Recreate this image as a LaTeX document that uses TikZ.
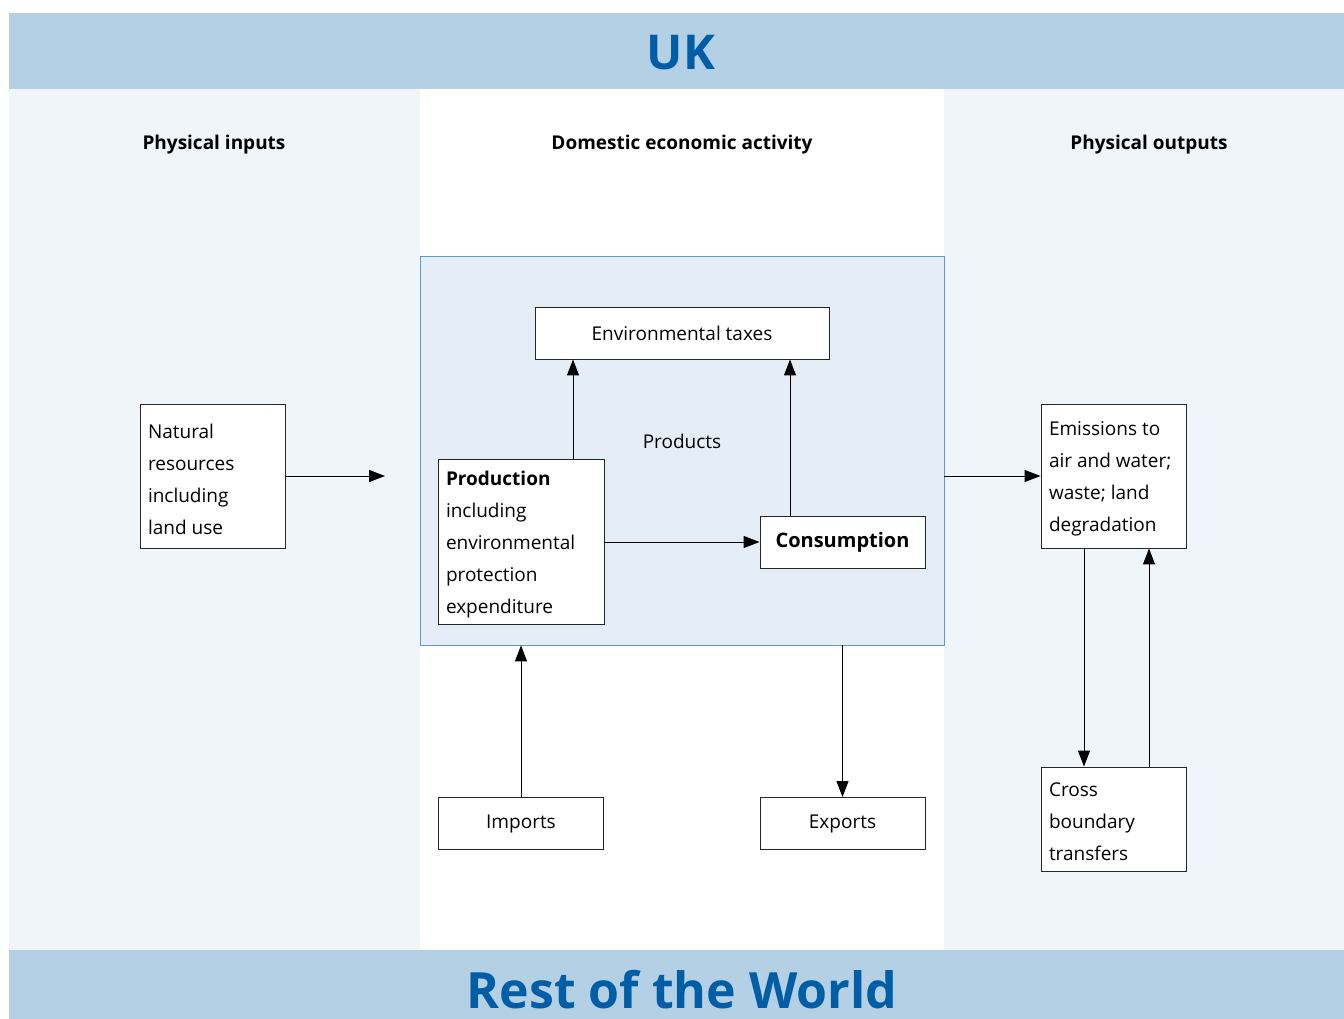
\documentclass[tikz,border=0pt]{standalone}
\usepackage{fontspec}
\setmainfont{Open Sans}
\usetikzlibrary{arrows.meta}
\definecolor{band}{HTML}{B4D0E4}
\definecolor{pale}{HTML}{F0F5FA}
\definecolor{inner}{HTML}{E5EEF7}
\definecolor{innerline}{HTML}{5B9BD5}
\definecolor{hdrblue}{HTML}{005DA6}
\newcommand{\lowtext}[2]{\raisebox{-3pt}[\height][\depth]{\parbox{#1}{\raggedright #2}}}
\begin{document}
\begin{tikzpicture}[x=1pt,y=-1pt,
  box/.style={draw=black!85,fill=white,line width=0.9pt,inner sep=8pt,font=\fontsize{19}{32}\selectfont},
  lbox/.style={box},
  cbox/.style={box,align=center},
  conn/.style={line width=1pt,-{Triangle[length=16pt,width=12pt]}},
  colhead/.style={font=\bfseries\fontsize{19}{22}\selectfont},
  bandtext/.style={font=\bfseries\fontsize{#1}{52}\selectfont,text=hdrblue}
]
\useasboundingbox (0,0) rectangle (1344,1019);
% backgrounds
\fill[white] (0,0) rectangle (1344,1019);
\fill[pale] (9,89) rectangle (1344,950);
\fill[white] (420,89) rectangle (944,950);
\fill[band] (9,13) rectangle (1344,89);
\fill[band] (9,950) rectangle (1344,1019);
\node[bandtext=48] (uk) at (681,53) {UK};
\node[bandtext=50] (row) at (682,990) {Rest of the World};
% column heads
\node[colhead] (hin) at (214,145) {Physical inputs};
\node[colhead] (hdom) at (682,145) {Domestic economic activity};
\node[colhead] (hout) at (1149,145) {Physical outputs};
% inner box
\node[draw=innerline,fill=inner,line width=0.8pt,minimum width=524,minimum height=389,inner sep=0] (dom) at (682,450.5) {};
% boxes
\node[cbox,minimum width=294,minimum height=52] (tax) at (682,333) {Environmental taxes};
\node[lbox,minimum width=165,minimum height=165] (prod) at (521,541.5) {\lowtext{150pt}{\textbf{Production}\\including\\environmental\\protection\\expenditure}};
\node[cbox,minimum width=165,minimum height=52,font=\bfseries\fontsize{20}{32}\selectfont] (cons) at (842.5,542) {Consumption};
\node[font=\fontsize{19}{22}\selectfont] (prodlab) at (682,441) {Products};
\node[lbox,minimum width=145,minimum height=144] (nat) at (212.5,476) {\lowtext{129pt}{Natural\\resources\\including\\land use}};
\node[lbox,minimum width=145,minimum height=144] (emi) at (1113.5,476) {\lowtext{129pt}{Emissions to\\air and water;\\waste; land\\degradation}};
\node[lbox,minimum width=145,minimum height=104] (cross) at (1113.5,819) {\lowtext{129pt}{Cross\\boundary\\transfers}};
\node[cbox,minimum width=165,minimum height=52] (imp) at (521,823.5) {Imports};
\node[cbox,minimum width=165,minimum height=52] (exp) at (842.5,823.5) {Exports};
% connectors
\coordinate (natend) at (385,476);
\draw[conn] (nat.east) -- (natend);
\draw[conn] (dom.east |- emi.west) -- (emi.west);
\draw[conn] (573,0 |- prod.north) -- (573,0 |- tax.south);
\draw[conn] (790,0 |- cons.north) -- (790,0 |- tax.south);
\draw[conn] (prod.east |- cons.west) -- (cons.west);
\draw[conn] (imp.north) -- (imp.north |- dom.south);
\draw[conn] (exp.north |- dom.south) -- (exp.north);
\draw[conn] (1084,0 |- emi.south) -- (1084,0 |- cross.north);
\draw[conn] (1149,0 |- cross.north) -- (1149,0 |- emi.south);
\end{tikzpicture}
\end{document}
